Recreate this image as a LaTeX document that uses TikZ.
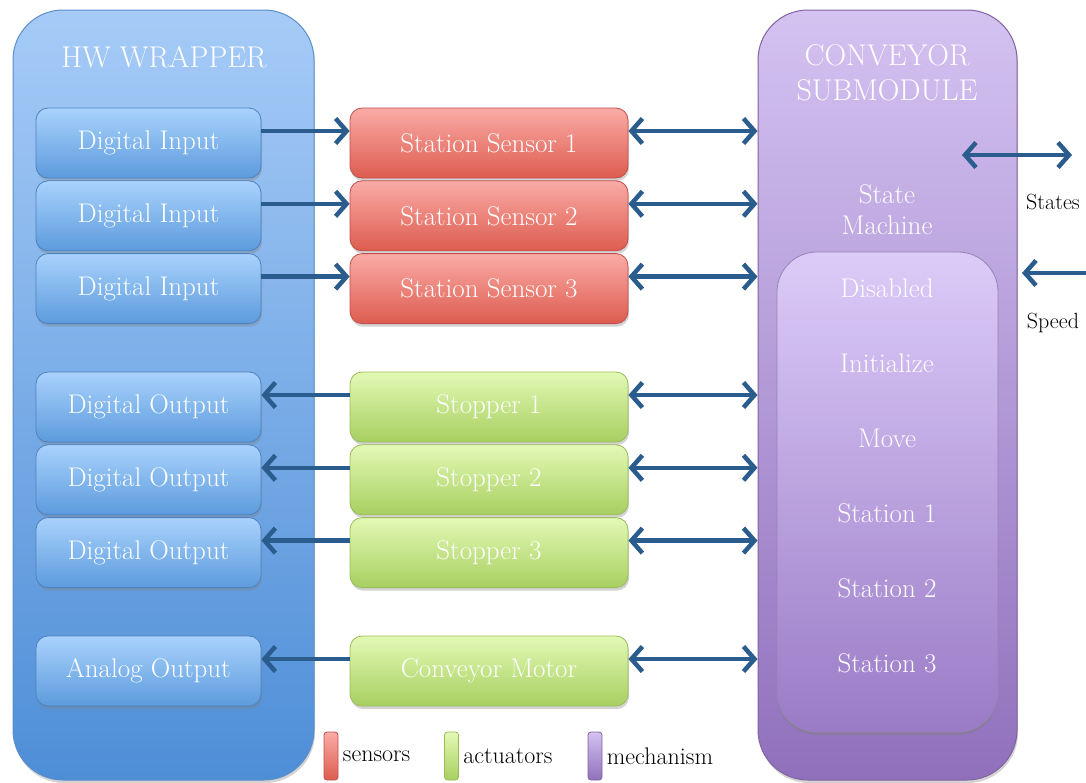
\documentclass[tikz,border=0pt]{standalone}
\usepackage{fontspec}
\usetikzlibrary{arrows.meta, positioning, shadows}

\definecolor{hwtop}{HTML}{A6CBF7}
\definecolor{hwbot}{HTML}{4E8ED7}
\definecolor{hwline}{HTML}{5B8FC9}
\definecolor{iotop}{HTML}{A9D2FC}
\definecolor{iobot}{HTML}{5C9BDD}
\definecolor{ioline}{HTML}{4F81BD}
\definecolor{sentop}{HTML}{FAABA6}
\definecolor{senbot}{HTML}{DD5C4F}
\definecolor{senline}{HTML}{C0504D}
\definecolor{acttop}{HTML}{E3F9B4}
\definecolor{actbot}{HTML}{A7CF60}
\definecolor{actline}{HTML}{9BBB59}
\definecolor{mechtop}{HTML}{D4C2F1}
\definecolor{mechbot}{HTML}{9070BC}
\definecolor{mechline}{HTML}{8064A2}
\definecolor{fsmtop}{HTML}{DCCBF8}
\definecolor{fsmbot}{HTML}{9A7BC6}
\definecolor{linkblue}{HTML}{2B5C8E}

\begin{document}
\begin{tikzpicture}[
    x=1pt, y=-1pt,
    shade/.style={drop shadow={opacity=0.35, shadow xshift=1pt, shadow yshift=-3pt}},
    panel/.style={draw, line width=1pt, rounded corners=50pt, minimum height=770pt,
                  inner sep=0pt, shade},
    unit/.style={draw, line width=0.8pt, rounded corners=12pt, minimum height=70pt,
                 text=white, font=\fontsize{27}{32}\selectfont, shade},
    hwio/.style={unit, draw=ioline, top color=iotop, bottom color=iobot,
                 minimum width=225pt},
    sensor/.style={unit, draw=senline, top color=sentop, bottom color=senbot,
                   minimum width=278pt},
    actuator/.style={unit, draw=actline, top color=acttop, bottom color=actbot,
                     minimum width=278pt},
    title/.style={text=white, align=center, font=\fontsize{30}{35}\selectfont},
    state/.style={text=white, font=\fontsize{27}{31}\selectfont},
    key/.style={draw, line width=0.8pt, rounded corners=3pt, minimum width=14pt,
                minimum height=48pt, inner sep=0pt},
    keytext/.style={font=\fontsize{24}{28}\selectfont},
    link/.style={draw=linkblue, line width=4.5pt,
                 -{Straight Barb[length=11pt, width=25pt]}},
    dlink/.style={link, {Straight Barb[length=11pt, width=25pt]}-{Straight Barb[length=11pt, width=25pt]}},
]
    \useasboundingbox (0,0) rectangle (1086,782);

    %==================== HW WRAPPER ====================
    \node[panel, draw=hwline, top color=hwtop, bottom color=hwbot,
          minimum width=301pt] (hw) at (163.5,395) {};
    \node[title] (hwtitle) at (164,57) {HW WRAPPER};

    \node[hwio] (din1) at (148.5,143) {Digital Input};
    \node[hwio, below=2pt of din1] (din2) {Digital Input};
    \node[hwio, below=2pt of din2] (din3) {Digital Input};

    \node[hwio] (dout1) at (148.5,407) {Digital Output};
    \node[hwio, below=2pt of dout1] (dout2) {Digital Output};
    \node[hwio, below=2pt of dout2] (dout3) {Digital Output};

    \node[hwio] (aout) at (148.5,671) {Analog Output};

    %==================== CONVEYOR SUBMODULE ====================
    \node[panel, draw=mechline, top color=mechtop, bottom color=mechbot,
          minimum width=259pt] (sub) at (887.5,395) {};
    \node[title] (subtitle) at (887,73) {CONVEYOR\\SUBMODULE};
    \node[state, align=center] (fsmtitle) at (887,210) {State\\Machine};

    \node[draw=mechline!80, line width=0.8pt, rounded corners=40pt,
          top color=fsmtop, bottom color=fsmbot, minimum width=221pt,
          minimum height=480pt, inner sep=0pt,
          drop shadow={opacity=0.45, shadow xshift=0pt, shadow yshift=-3pt}]
        (fsm) at (887.5,492) {};

    \node[state] (disabled) at (887,288) {Disabled};
    \node[state] (init) at (887,363) {Initialize};
    \node[state] (move) at (887,438) {Move};
    \node[state] (st1) at (887,513) {Station 1};
    \node[state] (st2) at (887,588) {Station 2};
    \node[state] (st3) at (887,663) {Station 3};

    %==================== sensors ====================
    \node[sensor] (sen1) at (489,143) {Station Sensor 1};
    \node[sensor, below=2pt of sen1] (sen2) {Station Sensor 2};
    \node[sensor, below=2pt of sen2] (sen3) {Station Sensor 3};

    %==================== actuators ====================
    \node[actuator] (stop1) at (489,407) {Stopper 1};
    \node[actuator, below=2pt of stop1] (stop2) {Stopper 2};
    \node[actuator, below=2pt of stop2] (stop3) {Stopper 3};
    \node[actuator] (motor) at (489,671) {Conveyor Motor};

    %==================== links ====================
    \draw[link] ([yshift=12pt]din1.east) -- ([yshift=12pt]sen1.west);
    \draw[link] ([yshift=12pt]din2.east) -- ([yshift=12pt]sen2.west);
    \draw[link] ([yshift=12pt]din3.east) -- ([yshift=12pt]sen3.west);
    \draw[link] ([yshift=12pt]stop1.west) -- ([yshift=12pt]dout1.east);
    \draw[link] ([yshift=12pt]stop2.west) -- ([yshift=12pt]dout2.east);
    \draw[link] ([yshift=12pt]stop3.west) -- ([yshift=12pt]dout3.east);
    \draw[link] ([yshift=12pt]motor.west) -- ([yshift=12pt]aout.east);

    \draw[dlink] ([yshift=12pt]sen1.east) -- ([yshift=12pt]sen1.east -| sub.west);
    \draw[dlink] ([yshift=12pt]sen2.east) -- ([yshift=12pt]sen2.east -| sub.west);
    \draw[dlink] ([yshift=12pt]sen3.east) -- ([yshift=12pt]sen3.east -| sub.west);
    \draw[dlink] ([yshift=12pt]stop1.east) -- ([yshift=12pt]stop1.east -| sub.west);
    \draw[dlink] ([yshift=12pt]stop2.east) -- ([yshift=12pt]stop2.east -| sub.west);
    \draw[dlink] ([yshift=12pt]stop3.east) -- ([yshift=12pt]stop3.east -| sub.west);
    \draw[dlink] ([yshift=12pt]motor.east) -- ([yshift=12pt]motor.east -| sub.west);

    %==================== external interface ====================
    \coordinate (statesin) at (962,155);
    \coordinate (statesout) at (1072,155);
    \coordinate (speedin) at (1022,273);
    \coordinate (speedout) at (1090,273);
    \draw[dlink] (statesin) -- (statesout);
    \draw[link] (speedout) -- (speedin);
    \node[font=\fontsize{22}{26}\selectfont] (states) at (1053,202) {States};
    \node[font=\fontsize{22}{26}\selectfont] (speed) at (1053,323) {Speed};

    %==================== legend ====================
    \node[key, draw=senline, top color=sentop, bottom color=senbot] (keysen) at (331,756) {};
    \node[keytext, right=1pt of keysen] (lsen) {sensors};
    \node[key, draw=actline, top color=acttop, bottom color=actbot] (keyact) at (451.5,756) {};
    \node[keytext, right=1pt of keyact] (lact) {actuators};
    \node[key, draw=mechline, top color=mechtop, bottom color=mechbot] (keymech) at (595,756) {};
    \node[keytext, right=1pt of keymech] (lmech) {mechanism};

\end{tikzpicture}
\end{document}
